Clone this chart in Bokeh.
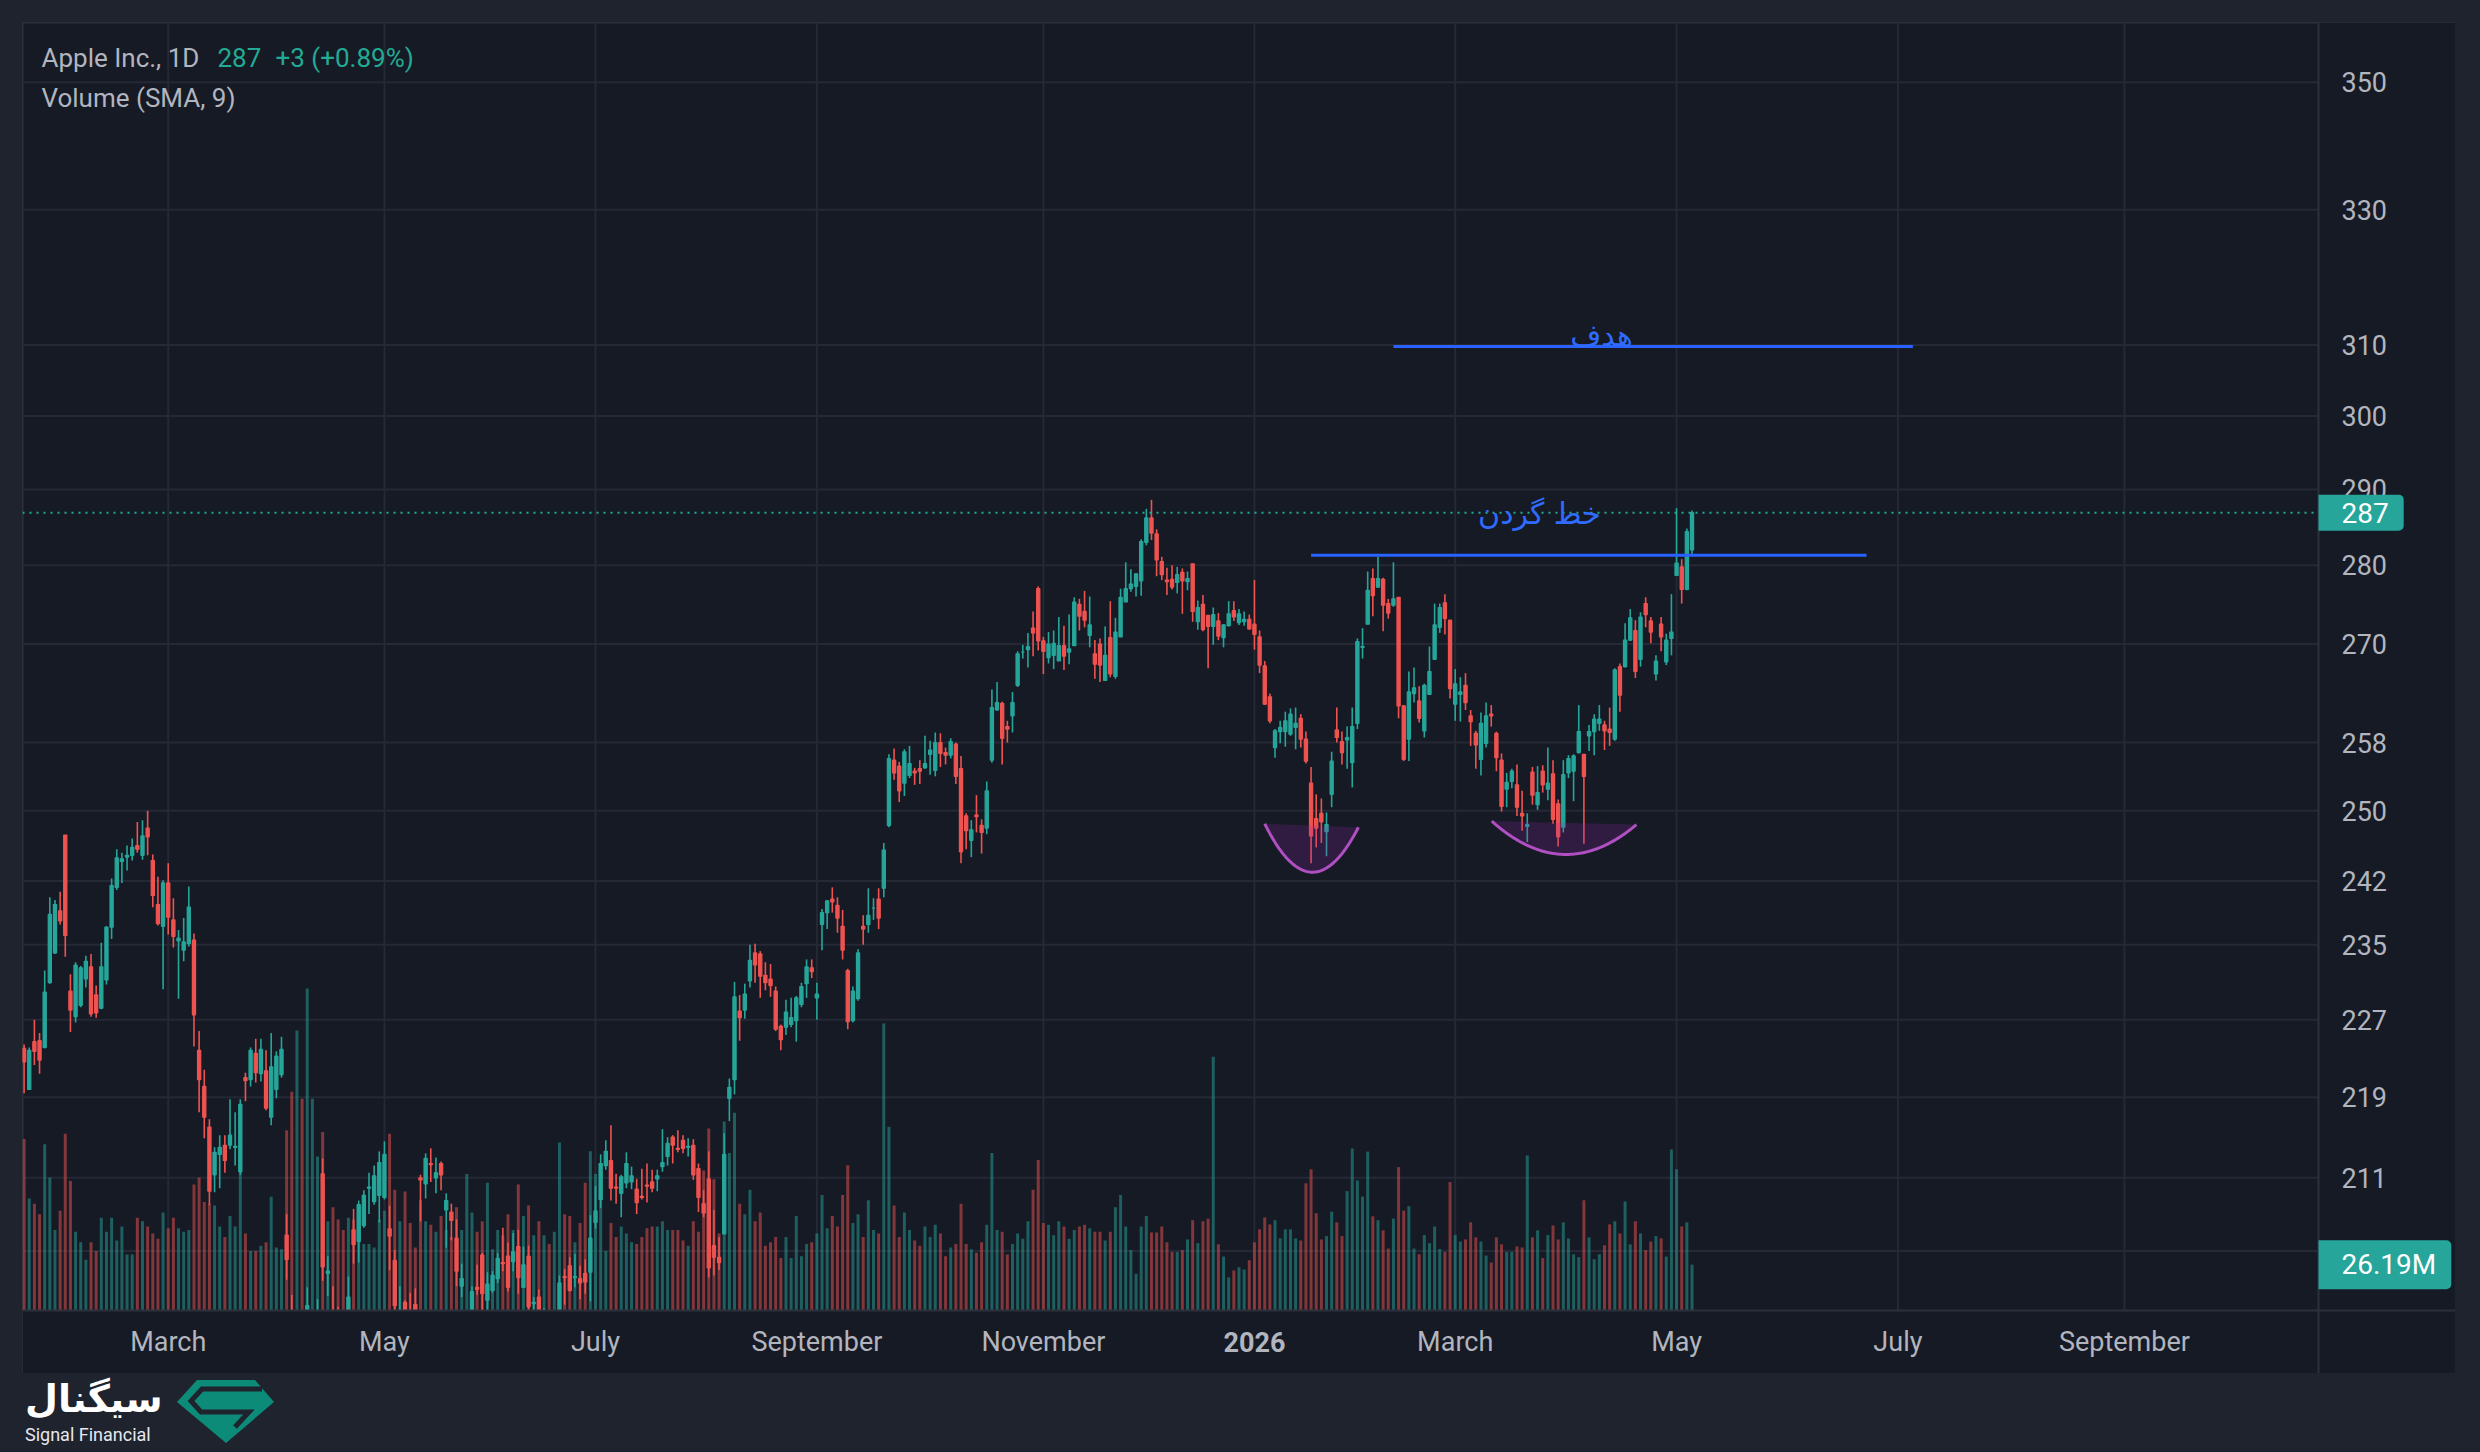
import numpy as np
from jinja2 import Template
from bokeh.plotting import figure
from bokeh.models import (Range1d, LinearScale, Label, Spacer, Div, ColumnDataSource)
from bokeh.core.properties import value
from bokeh.layouts import column, row
from bokeh.embed import file_html
from bokeh.resources import INLINE

# ---------------- data (AAPL daily, 21 Jan 2025 .. 6 May 2026) ----------------
opens = [
    224.0, 219.8, 224.7, 224.8,
    224.1, 230.9, 234.1, 238.7, 247.2,
    230.0, 227.3, 228.5, 231.3, 232.6,
    229.6, 228.2, 231.2, 236.9, 241.3,
    244.2, 244.7, 244.9, 246.0,
    244.9, 248.0, 244.3, 239.4, 237.0,
    241.8, 237.7, 235.4, 234.4, 235.1,
    235.5, 223.8, 220.1, 216.0, 211.3,
    213.3, 214.2, 214.2, 214.0, 211.6,
    221.0, 220.8, 223.5, 221.4, 221.7,
    217.0, 219.8, 221.3, 205.5, 193.9,
    177.2, 186.7, 172.0, 189.1, 186.1,
    211.4, 201.9, 198.4, 197.2,
    193.3, 196.1, 206.0, 204.9, 206.4,
    210.0, 208.7, 209.3, 209.1, 206.1,
    203.1, 198.2, 199.2, 197.7, 199.0,
    211.0, 210.4, 212.4, 211.0, 212.4,
    207.9, 207.7, 205.2, 200.7, 193.7,
    198.3, 200.6, 203.6, 199.4,
    200.3, 201.4, 202.9, 203.5, 203.0,
    204.4, 200.6, 203.5, 199.1, 199.7,
    197.3, 197.2, 195.9, 198.2,
    201.6, 202.6, 201.5, 201.4, 201.9,
    202.0, 206.7, 208.9, 212.2,
    212.7, 210.1, 209.5, 210.5, 210.6,
    209.9, 209.2, 210.3, 210.6, 210.9,
    212.1, 213.1, 215.0, 213.9, 214.7,
    214.0, 214.2, 211.9, 208.5, 210.9,
    204.5, 203.4, 205.6, 218.9, 220.8,
    227.9, 228.0, 231.1, 234.1, 234.0,
    231.7, 231.3, 230.0, 226.3, 226.2,
    226.5, 226.9, 228.6, 230.8, 232.5,
    229.3, 237.2, 238.5, 240.0,
    239.3, 237.0, 232.2, 226.9, 229.2,
    237.0, 237.2, 239.0, 240.0, 241.2,
    248.3, 255.9, 255.2, 253.2, 254.1,
    254.6, 254.9, 255.0, 256.6, 254.7,
    258.0, 256.8, 256.5, 257.8, 254.9,
    249.4, 246.6, 249.5, 248.3, 248.0,
    255.9, 261.9, 262.7, 259.9, 261.2,
    264.9, 269.0, 269.3, 272.0, 277.0,
    270.4, 268.3, 268.6, 267.9, 269.8,
    269.0, 269.8, 275.0, 274.1, 271.1,
    268.8, 270.0, 265.5, 270.8, 266.0,
    270.9, 275.3, 277.0, 277.3,
    278.0, 283.0, 286.2, 284.1, 280.5,
    278.1, 278.2, 277.8, 279.1, 277.9,
    280.2, 272.8, 275.0, 273.6, 272.2,
    272.9, 270.8, 272.3, 274.2,
    272.7, 272.8, 273.1,
    272.5,
    270.9, 267.3, 263.5, 257.4, 259.3,
    259.3, 259.0, 259.8, 260.9, 258.4,
    253.2, 249.1, 249.7, 247.6,
    251.9, 259.5, 258.1, 258.3, 255.6,
    260.3, 269.6, 272.5, 278.3, 277.2,
    278.2, 275.1, 274.9, 275.9, 262.4,
    258.4, 263.9, 263.0, 259.4,
    263.8, 268.1, 272.1, 275.2, 273.0,
    262.6, 263.8, 264.9, 261.2, 259.1,
    256.0, 257.9, 261.4, 259.1, 255.9,
    252.5, 253.4, 253.0, 249.7, 248.2,
    254.5, 250.7, 254.6, 252.5, 254.3,
    250.8, 248.1, 254.4, 254.6,
    256.8, 256.6, 258.8, 259.3, 260.3,
    260.1, 259.6, 258.4, 267.2, 267.2,
    270.5, 271.7, 268.1, 275.1, 272.9,
    266.3, 272.5, 267.8, 270.7, 278.7,
    279.8, 276.9, 282.0,
]
highs = [
    224.4, 224.1, 227.0, 225.6,
    232.2, 240.2, 239.9, 240.8, 247.2,
    231.8, 233.1, 232.7, 233.8, 234.0,
    230.6, 235.2, 237.0, 242.3, 245.6,
    245.2, 246.0, 246.8, 248.7,
    248.9, 250.0, 245.0, 242.5, 242.1,
    244.0, 240.1, 236.6, 237.9, 241.4,
    236.2, 225.8, 221.8, 216.8, 214.0,
    215.2, 215.2, 218.8, 217.5, 218.8,
    221.5, 224.1, 225.0, 225.0, 223.8,
    225.6, 223.7, 225.2, 207.5, 199.9,
    194.2, 190.3, 200.6, 194.8, 199.5,
    212.9, 203.5, 200.7, 198.8,
    193.8, 201.6, 208.0, 208.8, 209.8,
    211.5, 212.2, 213.6, 214.6, 208.3,
    204.1, 200.7, 199.4, 200.1, 200.5,
    211.3, 213.4, 213.9, 213.0, 212.6,
    209.5, 208.5, 207.0, 202.8, 197.7,
    200.7, 202.7, 203.8, 202.0,
    202.1, 203.8, 206.2, 204.8, 205.7,
    206.0, 204.4, 204.5, 199.7, 200.4,
    198.7, 198.4, 197.6, 201.7,
    202.3, 203.4, 203.7, 202.6, 203.2,
    207.4, 210.2, 213.3, 214.7,
    216.2, 211.4, 211.3, 213.5, 212.1,
    210.9, 211.9, 212.4, 211.8, 211.8,
    215.8, 215.0, 215.2, 215.7, 215.2,
    214.9, 214.8, 212.4, 209.8, 213.6,
    207.9, 205.3, 215.4, 220.9, 231.0,
    229.6, 230.8, 235.0, 235.1, 234.3,
    233.1, 232.9, 230.5, 226.5, 229.1,
    229.3, 229.5, 230.9, 233.4, 233.4,
    230.9, 238.9, 239.9, 241.3,
    240.2, 238.8, 232.4, 230.5, 234.5,
    238.2, 241.2, 240.1, 241.2, 246.3,
    256.6, 257.3, 255.7, 257.2, 257.6,
    255.0, 255.9, 258.8, 258.2, 259.2,
    259.1, 257.4, 258.5, 258.0, 256.4,
    249.7, 248.9, 251.8, 249.0, 253.4,
    264.4, 265.3, 262.9, 260.6, 264.1,
    269.1, 269.9, 271.4, 274.1, 277.3,
    270.9, 271.5, 271.7, 273.4, 272.3,
    273.7, 275.9, 275.7, 276.7, 276.0,
    270.5, 270.7, 272.2, 275.4, 273.3,
    277.0, 280.4, 279.5, 279.0,
    283.4, 287.4, 288.6, 284.7, 281.1,
    279.7, 280.0, 279.8, 279.6, 279.2,
    280.2, 275.5, 276.2, 273.6, 274.6,
    273.9, 272.5, 275.4, 275.4,
    274.4, 274.1, 273.7,
    278.1,
    271.7, 267.9, 263.9, 259.6, 260.6,
    261.7, 262.1, 262.2, 261.4, 259.3,
    255.1, 251.9, 251.4, 249.8,
    256.9, 262.2, 259.3, 259.9, 262.2,
    270.7, 272.0, 279.2, 279.6, 281.1,
    278.4, 275.7, 280.4, 275.9, 262.5,
    266.6, 267.1, 264.8, 265.1,
    269.7, 275.1, 275.1, 276.3, 273.0,
    266.9, 265.9, 266.4, 261.9, 259.4,
    261.6, 262.8, 262.5, 259.3, 256.7,
    254.4, 254.9, 255.4, 252.3, 249.7,
    255.1, 255.2, 255.3, 257.4, 255.9,
    251.3, 255.9, 256.5, 256.6,
    262.5, 256.6, 260.1, 261.4, 262.5,
    260.6, 262.2, 267.0, 267.6, 272.6,
    274.4, 273.0, 274.0, 275.9, 273.4,
    268.6, 273.4, 271.3, 276.3, 287.5,
    280.8, 284.8, 287.2,
]
lows = [
    219.4, 219.8, 222.3, 221.4,
    224.0, 230.8, 234.0, 237.2, 233.7,
    225.7, 226.7, 228.3, 230.4, 227.3,
    227.2, 228.1, 230.7, 235.6, 241.0,
    241.8, 243.2, 244.3, 245.2,
    244.4, 244.9, 239.1, 237.1, 230.2,
    236.1, 234.7, 229.2, 233.2, 234.8,
    224.2, 217.5, 214.9, 208.4, 209.6,
    210.0, 211.5, 213.8, 212.2, 211.3,
    218.6, 220.1, 220.5, 220.6, 217.7,
    216.2, 218.9, 221.0, 201.3, 187.3,
    174.6, 169.2, 171.9, 183.0, 186.1,
    201.2, 199.8, 192.4, 194.4,
    189.8, 196.0, 202.8, 202.9, 206.2,
    207.5, 208.4, 206.7, 208.9, 202.2,
    198.2, 197.0, 193.3, 194.7, 197.5,
    206.8, 209.0, 210.6, 209.5, 209.8,
    204.3, 205.0, 200.7, 199.7, 193.5,
    197.4, 199.9, 198.5, 196.8,
    200.1, 201.0, 202.1, 200.2, 202.1,
    200.0, 200.6, 198.4, 197.4, 195.7,
    196.6, 195.2, 195.1, 196.9,
    199.0, 200.2, 200.6, 199.5, 200.0,
    199.3, 206.1, 208.1, 211.8,
    208.8, 208.5, 207.2, 210.0, 209.9,
    207.5, 208.9, 208.6, 209.6, 209.7,
    211.6, 212.2, 212.4, 213.5, 213.4,
    213.1, 210.8, 207.7, 207.2, 201.5,
    201.7, 202.2, 205.6, 216.6, 219.3,
    224.8, 227.1, 230.4, 230.9, 229.3,
    230.1, 229.4, 225.8, 223.8, 225.4,
    226.2, 224.7, 228.3, 229.3, 231.4,
    227.0, 234.4, 236.7, 238.5,
    236.3, 233.4, 226.0, 226.7, 229.0,
    235.0, 236.3, 237.7, 236.7, 240.2,
    248.1, 253.6, 251.0, 251.7, 253.8,
    253.0, 253.1, 254.9, 254.2, 254.0,
    255.1, 255.4, 256.1, 253.1, 244.0,
    245.6, 244.7, 247.5, 245.1, 247.3,
    255.6, 261.8, 255.4, 258.0, 259.2,
    264.7, 268.2, 267.1, 268.5, 269.2,
    266.3, 267.6, 266.9, 267.9, 266.8,
    267.5, 269.8, 271.7, 272.1, 269.6,
    265.7, 265.3, 265.5, 265.9, 265.7,
    270.9, 275.3, 276.6, 276.0,
    276.1, 282.6, 283.3, 278.6, 278.1,
    276.2, 276.9, 276.4, 273.8, 276.8,
    272.8, 271.8, 271.6, 267.0, 269.9,
    270.5, 269.6, 272.2, 272.9,
    272.4, 272.3, 271.8,
    269.3,
    266.4, 262.5, 260.3, 256.2, 257.9,
    257.5, 258.8, 257.2, 257.4, 255.5,
    244.0, 245.8, 246.3, 244.8,
    250.4, 258.0, 255.4, 254.9, 252.7,
    259.6, 268.2, 272.5, 273.5, 277.1,
    271.6, 273.2, 274.7, 260.9, 255.8,
    255.8, 262.8, 260.4, 258.6,
    263.8, 268.1, 271.4, 271.2, 263.3,
    260.6, 260.5, 261.9, 257.6, 254.9,
    254.1, 257.4, 259.9, 254.6, 249.9,
    250.4, 252.6, 249.4, 247.7, 246.4,
    250.7, 250.1, 252.1, 251.2, 248.5,
    245.9, 247.5, 253.8, 251.1,
    256.7, 246.2, 257.0, 256.5, 259.4,
    257.1, 257.6, 258.2, 261.7, 267.1,
    270.4, 265.8, 267.2, 272.1, 270.1,
    265.5, 269.1, 267.4, 268.6, 278.7,
    275.1, 276.8, 281.4,
]
closes = [
    222.6, 223.8, 223.7, 222.8,
    229.9, 238.3, 239.4, 237.6, 236.0,
    228.0, 232.8, 232.5, 233.2, 227.6,
    227.7, 232.6, 236.9, 241.5, 244.6,
    244.5, 244.9, 245.8, 245.6,
    247.1, 247.0, 240.4, 237.3, 241.8,
    238.0, 235.9, 235.7, 235.3, 239.1,
    227.5, 220.8, 217.0, 209.7, 213.5,
    214.0, 212.7, 215.2, 214.1, 218.3,
    220.7, 223.8, 221.5, 223.9, 217.9,
    222.1, 223.2, 223.9, 203.2, 188.4,
    181.5, 172.4, 198.9, 190.4, 198.2,
    202.5, 202.1, 194.3, 197.0,
    193.2, 199.7, 204.6, 208.4, 209.3,
    210.1, 211.2, 212.5, 213.3, 205.4,
    198.9, 198.5, 196.3, 197.5, 198.5,
    210.8, 212.9, 212.3, 211.5, 211.3,
    208.8, 206.9, 202.1, 201.4, 195.3,
    200.2, 200.4, 200.0, 200.9,
    201.7, 203.3, 202.8, 200.6, 203.9,
    201.5, 202.7, 198.8, 199.2, 196.5,
    198.4, 195.6, 196.6, 201.0,
    201.5, 200.3, 201.6, 201.0, 201.1,
    205.2, 207.8, 212.4, 213.6,
    210.0, 210.0, 211.1, 212.4, 211.2,
    208.6, 209.1, 210.2, 210.0, 211.2,
    212.5, 214.4, 214.2, 213.8, 213.9,
    214.1, 211.3, 209.1, 207.6, 202.4,
    203.4, 202.9, 213.3, 220.0, 229.4,
    227.2, 229.7, 233.3, 232.8, 231.6,
    230.9, 230.6, 226.0, 224.9, 227.8,
    227.2, 229.3, 230.5, 232.6, 232.1,
    229.7, 238.5, 239.8, 239.7,
    237.9, 234.4, 226.8, 230.0, 234.1,
    236.7, 238.2, 239.0, 237.9, 245.5,
    256.1, 254.4, 252.3, 256.9, 255.5,
    254.4, 254.6, 255.5, 257.1, 258.0,
    256.7, 256.5, 258.1, 254.0, 245.3,
    247.7, 247.8, 249.3, 247.5, 252.3,
    262.2, 262.8, 258.5, 259.6, 262.8,
    268.8, 269.0, 269.7, 271.4, 270.4,
    269.1, 270.0, 270.1, 269.8, 268.5,
    269.4, 275.3, 273.5, 273.0, 272.4,
    267.5, 267.4, 268.6, 266.3, 271.5,
    275.9, 277.0, 277.6, 278.9,
    283.1, 286.2, 284.2, 280.7, 278.8,
    277.9, 277.2, 278.8, 278.0, 278.3,
    274.1, 274.6, 271.8, 272.2, 273.7,
    271.0, 272.4, 273.8, 273.4,
    273.8, 273.1, 271.9,
    271.2,
    267.4, 262.6, 260.6, 259.4, 259.8,
    260.6, 261.4, 260.3, 258.4, 255.8,
    247.1, 248.0, 248.7, 248.4,
    255.8, 258.6, 256.8, 258.6, 259.9,
    270.3, 269.7, 276.8, 276.1, 278.3,
    274.9, 273.9, 275.7, 262.4, 256.0,
    264.1, 264.6, 260.9, 264.9,
    266.6, 272.4, 274.6, 273.2, 264.5,
    265.1, 264.1, 262.8, 260.5, 257.7,
    260.3, 261.2, 261.2, 256.2, 250.5,
    253.3, 254.6, 250.4, 249.4, 248.4,
    251.8, 252.1, 253.0, 253.2, 249.0,
    247.0, 254.2, 256.1, 256.4,
    259.3, 254.0, 259.3, 260.8, 260.8,
    259.4, 259.2, 266.8, 263.7, 270.5,
    273.3, 266.6, 273.4, 273.7, 271.5,
    267.9, 270.9, 270.5, 271.5, 280.3,
    276.9, 284.4, 286.9,
]
volumes = [  # millions of shares
    98, 64, 61, 55,
    95, 76, 46, 57, 101,
    74, 45, 39, 29, 39,
    34, 53, 45, 53, 40,
    48, 32, 32, 53,
    51, 48, 44, 41, 56,
    47, 53, 47, 45, 46,
    72, 76, 62, 61, 60,
    48, 42, 54, 48, 94,
    44, 34, 34, 37, 39,
    65, 36, 35, 103, 125,
    160, 121, 184, 121, 88,
    102, 51, 59, 52,
    46, 53, 52, 47, 38,
    38, 36, 52, 57, 101,
    69, 51, 68, 50, 36,
    63, 51, 49, 45, 54,
    46, 42, 59, 46, 78,
    56, 45, 51, 73,
    35, 46, 43, 55, 46,
    72, 54, 60, 43, 51,
    43, 38, 45, 96,
    55, 54, 39, 50, 73,
    91, 78, 67, 34,
    50, 42, 48, 44, 39,
    38, 42, 47, 48, 48,
    51, 46, 46, 46, 40,
    37, 51, 45, 80, 104,
    75, 44, 108, 90, 113,
    61, 55, 69, 51, 56,
    37, 39, 42, 30, 42,
    30, 54, 31, 38, 39,
    44, 66, 47, 54,
    48, 66, 83, 50, 55,
    42, 63, 46, 44, 164,
    105, 60, 42, 56, 46,
    40, 37, 48, 42, 49,
    44, 31, 36, 38, 61,
    38, 35, 33, 39, 49,
    90, 46, 45, 32, 38,
    44, 41, 51, 69, 86,
    50, 49, 43, 51, 48,
    41, 46, 48, 49, 47,
    45, 45, 40, 45, 59,
    66, 48, 34.5, 21,
    48, 54, 44.6, 44.6, 48,
    39, 33.5, 33.5, 34.5, 40.6,
    51.6, 38.5, 51, 52.5, 145,
    37.8, 30.8, 18.9, 22.9,
    24.7, 23.4, 28.7,
    39,
    46.4, 53.2, 49.2, 51.6, 41.2,
    46.4, 46.4, 41.2, 40, 72.7,
    80.7, 55.6, 40.6, 42.5,
    56.5, 50.4, 42.5, 68.2, 92.6,
    74.3, 65.1, 90.8, 53.8, 51.6,
    45.8, 35.4, 52.5, 81.9, 57.1,
    59.6, 35.4, 32.1, 43.1,
    38.5, 48, 35.1, 33.5, 73.4,
    43.1, 39.4, 40.6, 50.4, 41.8,
    39.4, 31.4, 27.4, 41.8, 37.8,
    33.5, 33.5, 36.6, 36.0, 88.6,
    41.8, 45.8, 29.9, 43.1, 48.6,
    40.6, 50.4, 41.2, 32.1,
    30.5, 63, 41.8, 29.3, 32.1,
    37.3, 49.2, 51, 44, 62.3,
    37.8, 51, 44, 34.5, 39.4,
    42.5, 41.2, 30.8, 92, 80.7,
    48, 50.4, 26.19,
]

# x-axis (bar index of the first session of each month) and labels
month_tick_idx = [28, 70, 111, 154, 198, 239, 278, 321, 364, 408]
month_labels = ["March", "May", "July", "September", "November", "2026",
                "March", "May", "July", "September"]
price_ticks = [204, 211, 219, 227, 235, 242, 250, 258, 270, 280, 290, 300, 310, 330, 350]

# drawings (bar index / price)
neck_x = [250.0, 357.9]
neck_price = 281.3
neck_text = "خط گردن"
target_x = [266.0, 366.9]
target_price = 309.8
target_text = "هدف"
arc_left = dict(x0=241.0, y0=248.5, x1=259.2, y1=248.1, ybot=243.0)
arc_right = dict(x0=285.1, y0=248.8, x1=313.2, y1=248.4, ybot=245.0)

assert len(opens) == len(highs) == len(lows) == len(closes) == len(volumes), \
    (len(opens), len(highs), len(lows), len(closes), len(volumes))

# ---------------- layout constants ----------------
PANE_W, PANE_H = 2296, 1288          # price pane
AXIS_W, AXIS_H = 137, 63             # right price scale / bottom time scale
BG_OUT = "#1f232e"
BG_PANE = "#161a25"
GRID = "#252935"
BORDER = "#2c303b"
TXT = "#b2b5be"
UP, DOWN = "#26a69a", "#ef5350"
TEAL = "#22ab94"
BADGE = "#26a69a"
BLUE = "#2962ff"
FONT = "Roboto"

X_LO, X_HI = -0.31, 445.7            # visible bar-index range of the pane
Y_LO, Y_HI = 198.46, 359.8           # visible price range of the pane (log)
PX_PER_VOL = 1.75                    # volume overlay: pixels per million
REF_X0, REF_Y0 = 22, 22              # pane top-left in page pixels


def px2x(px):
    return X_LO + (px - REF_X0) / PANE_W * (X_HI - X_LO)


def px2y(py):
    return float(np.exp(np.log(Y_HI) - (py - REF_Y0) / PANE_H * (np.log(Y_HI) - np.log(Y_LO))))


X_FULL = px2x(REF_X0 + PANE_W + AXIS_W)
Y_FULL = px2y(REF_Y0 + PANE_H + AXIS_H)

n = len(closes)
o = np.array(opens, dtype=float)
c = np.array(closes, dtype=float)
col = np.where(c >= o, UP, DOWN)
src = ColumnDataSource(dict(
    x=np.arange(n), h=highs, l=lows,
    top=np.maximum(o, c), bot=np.minimum(o, c),
    col=col, vol=volumes,
))

p = figure(width=PANE_W + AXIS_W, height=PANE_H + AXIS_H, y_axis_type="log",
           x_range=Range1d(X_LO, X_FULL), y_range=Range1d(Y_FULL, Y_HI),
           x_axis_location=None, y_axis_location=None,
           output_backend="svg", toolbar_location=None, title=None,
           min_border=0, min_border_left=0, min_border_right=0,
           min_border_top=0, min_border_bottom=0)
p.margin = 0
p.grid.visible = False
p.background_fill_color = BG_PANE
p.border_fill_color = BG_PANE
p.outline_line_color = BORDER
p.outline_line_width = 2
p.extra_y_ranges = {"vol": Range1d(-AXIS_H / PX_PER_VOL, PANE_H / PX_PER_VOL)}
p.extra_y_scales = {"vol": LinearScale()}

# grid
p.segment(x0=month_tick_idx, x1=month_tick_idx, y0=[Y_LO] * len(month_tick_idx),
          y1=[Y_HI] * len(month_tick_idx), line_color=GRID, line_width=2)
p.segment(x0=[X_LO] * len(price_ticks), x1=[X_HI] * len(price_ticks),
          y0=price_ticks, y1=price_ticks, line_color=GRID, line_width=2)

# volume
p.vbar(x="x", width=0.58, top="vol", bottom=0, source=src, y_range_name="vol",
       fill_color="col", fill_alpha=0.5, line_color=None)
# candles
p.segment(x0="x", y0="l", x1="x", y1="h", source=src, line_color="col", line_width=1.6)
p.vbar(x="x", width=0.62, top="top", bottom="bot", source=src,
       fill_color="col", line_color="col", line_width=1.2)


def arc_points(a, m=80):
    t = np.linspace(0, 1, m)
    ly0, ly1, lb = np.log(a["y0"]), np.log(a["y1"]), np.log(a["ybot"])
    lyc = 2 * lb - 0.5 * (ly0 + ly1)
    xc = 0.5 * (a["x0"] + a["x1"])
    xs = (1 - t) ** 2 * a["x0"] + 2 * (1 - t) * t * xc + t ** 2 * a["x1"]
    ys = np.exp((1 - t) ** 2 * ly0 + 2 * (1 - t) * t * lyc + t ** 2 * ly1)
    return xs, ys


for a in (arc_left, arc_right):
    xs, ys = arc_points(a)
    p.patch(xs, ys, fill_color="#9c27b0", fill_alpha=0.2, line_color=None)
    p.line(xs, ys, line_color="#b04fc2", line_width=3)

p.line(neck_x, [neck_price, neck_price], line_color=BLUE, line_width=3)
p.line(target_x, [target_price, target_price], line_color=BLUE, line_width=3)

# last price line (dotted, across the pane)
p.line([X_LO, X_HI], [closes[-1], closes[-1]], line_color=TEAL, line_dash="2 5", line_width=2)

# scale strips (right price scale, bottom time scale) cover anything that spills out
p.quad(left=[X_HI, X_LO], right=[X_FULL, X_FULL], top=[Y_HI, Y_LO], bottom=[Y_FULL, Y_FULL],
       fill_color=BG_PANE, line_color=None)
p.line([X_HI, X_HI], [Y_FULL, Y_HI], line_color=BORDER, line_width=2)
p.line([X_LO, X_FULL], [Y_LO, Y_LO], line_color=BORDER, line_width=2)

# price scale labels
p.text(x=[px2x(2341)] * len(price_ticks), y=price_ticks, text=[f"{t}" for t in price_ticks],
       text_color=TXT, text_font=value(FONT), text_font_size=value("27px"),
       text_align="left", text_baseline="middle")

# time scale labels
for i, lab in zip(month_tick_idx, month_labels):
    p.add_layout(Label(x=i, y=px2y(1341), text=lab, text_color=TXT, text_font=FONT,
                       text_font_size="27px", text_align="center", text_baseline="middle",
                       text_font_style="bold" if lab == "2026" else "normal"))

# drawing texts
p.add_layout(Label(x=px2x(1539), y=px2y(513), text=neck_text, text_align="center",
                   text_baseline="alphabetic", text_color="#2f6bff",
                   text_font="DejaVu Sans", text_font_size="30px"))
p.add_layout(Label(x=px2x(1601), y=px2y(335), text=target_text, text_align="center",
                   text_baseline="alphabetic", text_color="#2f6bff",
                   text_font="DejaVu Sans", text_font_size="30px"))

# legend texts
for txt, x_px, y_px, color in [("Apple Inc., 1D", 41, 57, TXT),
                               (f"{closes[-1]:.0f}", 217, 57, TEAL),
                               ("+3 (+0.89%)", 275, 57, TEAL),
                               ("Volume (SMA, 9)", 41, 97, TXT)]:
    p.add_layout(Label(x=px2x(x_px), y=px2y(y_px), text=txt, text_color=color,
                       text_font=FONT, text_font_size="26px",
                       text_align="left", text_baseline="middle"))

# price / volume badges on the right scale
badge = dict(text_color="#ffffff", text_font=FONT, text_font_size="28px",
             text_align="left", text_baseline="middle", background_fill_color=BADGE,
             padding=dict(left=23, right=15, top=8, bottom=8),
             border_radius=dict(top_left=0, top_right=5, bottom_right=5, bottom_left=0))
p.add_layout(Label(x=X_HI, y=closes[-1], text=f"{closes[-1]:.0f}", **badge))
p.add_layout(Label(x=X_HI, y=volumes[-1], y_range_name="vol", text=f"{volumes[-1]:.2f}M", **badge))

logo_html = """
<div style="position:relative;width:2455px;height:79px;">
  <div style="position:absolute;left:25px;top:3px;font-family:'DejaVu Sans';font-weight:bold;
       font-size:38px;line-height:46px;color:#ffffff;white-space:nowrap;">سیگنال</div>
  <div style="position:absolute;left:25px;top:52px;font-family:Roboto;font-size:18px;
       line-height:20px;color:#e6e8ee;white-space:nowrap;">Signal Financial</div>
  <svg style="position:absolute;left:177px;top:7px;" width="98" height="64" viewBox="0 0 98 64">
    <polygon points="20,0 78,0 97,22 49,63 0,22" fill="#0d8b79"/>
    <path d="M85,9 L25,9 L14,21 L24,32 L72,32 L58,47" stroke="#1f232e" stroke-width="5"
          fill="none" stroke-linejoin="miter"/>
  </svg>
</div>
"""
logo = Div(text=logo_html, width=REF_X0 + PANE_W + AXIS_W, height=79, margin=0)

page = column(
    Spacer(width=REF_X0 + PANE_W + AXIS_W, height=REF_Y0, margin=0),
    row(Spacer(width=REF_X0, height=PANE_H + AXIS_H, margin=0), p, margin=0),
    logo,
    margin=0,
)

tmpl = Template("{% extends base %}\n{% block preamble %}<style>html, body { background: "
                + BG_OUT + "; }</style>{% endblock %}")
html = file_html(page, INLINE, title="Apple Inc., 1D", template=tmpl)
open("out.html", "w").write(html)
